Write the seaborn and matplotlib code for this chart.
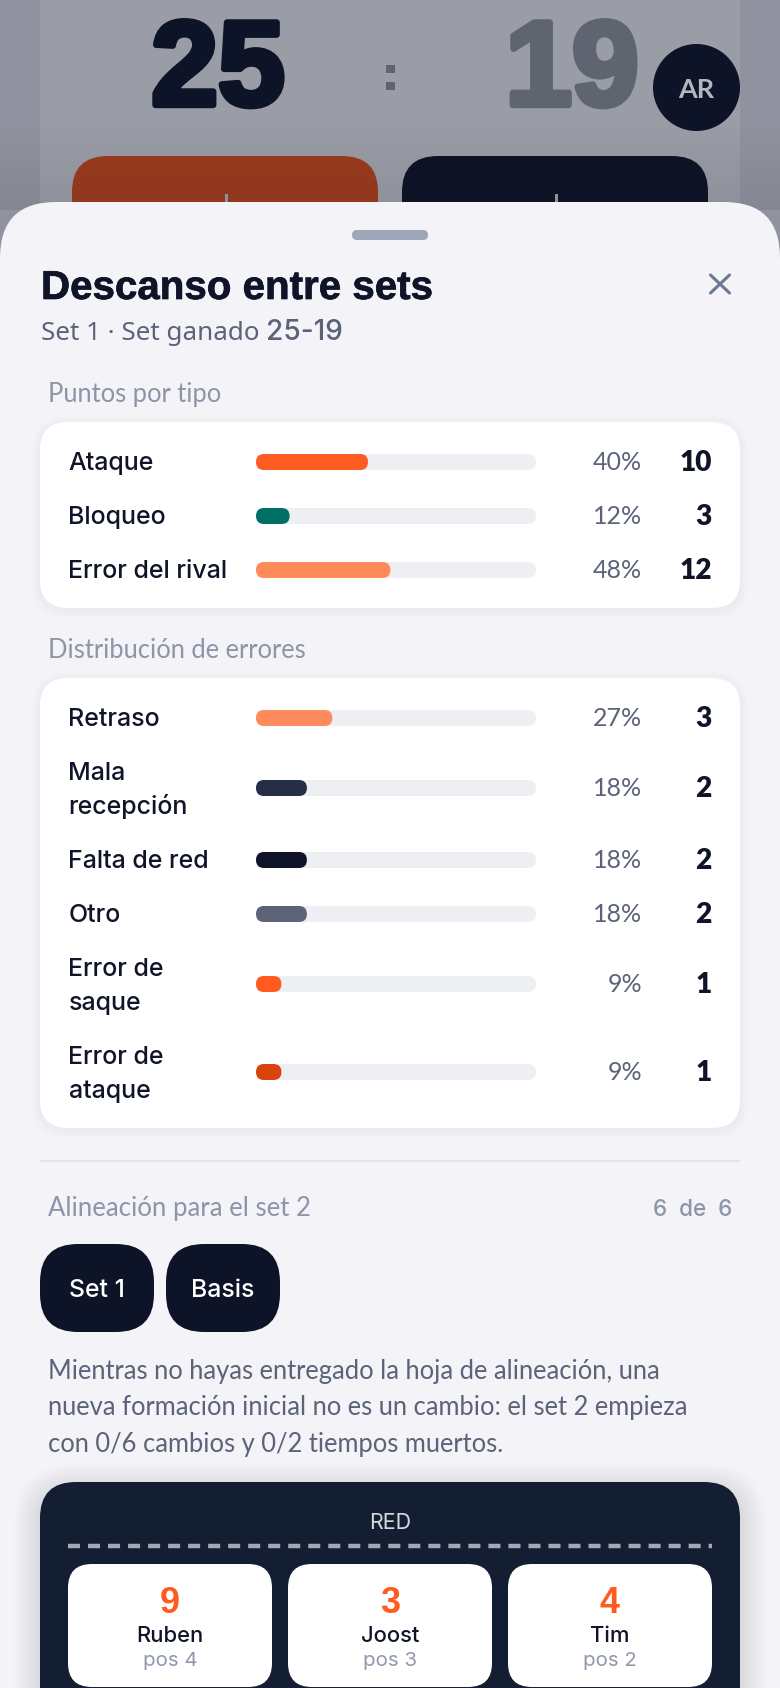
import numpy as np
import pandas as pd
import matplotlib
matplotlib.use("Agg")
import matplotlib.pyplot as plt
from matplotlib.patches import FancyBboxPatch, Rectangle, Circle
import matplotlib.patheffects as pe
import seaborn as sns

# ---- data ----
score_home = "25"
score_away = "19"
point_labels = ["Ataque", "Bloqueo", "Error del rival"]
point_counts = [10, 3, 12]
point_pcts = [40, 12, 48]
point_colors = ["#ff5a1f", "#006f64", "#ff8a5c"]

error_labels = ["Retraso", "Mala\nrecepción", "Falta de red", "Otro", "Error de\nsaque", "Error de\nataque"]
error_counts = [3, 2, 2, 2, 1, 1]
error_pcts = [27, 18, 18, 18, 9, 9]
error_colors = ["#ff8a5c", "#252e45", "#0f1428", "#5c6378", "#ff5a1f", "#d9420b"]
error_exact = [27.27, 18.18, 18.18, 18.18, 9.09, 9.09]

players = ["Ruben", "Joost", "Tim"]
numbers = ["9", "3", "4"]
positions = ["pos 4", "pos 3", "pos 2"]
paragraph = ["Mientras no hayas entregado la hoja de alineación, una",
             "nueva formación inicial no es un cambio: el set 2 empieza",
             "con 0/6 cambios y 0/2 tiempos muertos."]

W, H = 780, 1688
sns.set_theme(style="white")
plt.rcParams["font.family"] = ["Lato", "DejaVu Sans"]

INK = "#0f1428"
SLATE = "#5c6378"
MUTED = "#8d95a8"
SHEET = "#f3f3f8"
TRACK = "#eeeff3"
PANEL = "#141e33"

fig = plt.figure(figsize=(W / 100, H / 100), dpi=100, facecolor=SHEET)
main = fig.add_axes([0, 0, 1, 1])
main.set_axis_off()


def rbox(x0, y0, x1, y1, r, color, ax=None, z=2, alpha=1.0):
    p = FancyBboxPatch((x0 + r, y0 + r), x1 - x0 - 2 * r, y1 - y0 - 2 * r,
                       boxstyle=f"round,pad={r},rounding_size={r}",
                       fc=color, ec="none", alpha=alpha, zorder=z,
                       transform=main.transData, clip_on=ax is None)
    (ax or main).add_artist(p)
    return p


def shadow(x0, y0, x1, y1, r, spread, strength, dy=2, z=1.5):
    for s in range(spread, 0, -2):
        rbox(x0 - s, y0 - s + dy, x1 + s, y1 + s + dy, r + s, "#1a2040", z=z, alpha=strength)


def px(pts):
    return pts * 0.72


def text(x, y, s, size, color=INK, weight="normal", ha="left", family=None, z=6, **kw):
    return main.text(x, y, s, fontsize=px(size), color=color, fontweight=weight, ha=ha,
                     va="baseline", family=family or ["Lato", "DejaVu Sans"], zorder=z, **kw)


# ---- dimmed scoreboard behind the sheet ----
main.add_patch(Rectangle((0, 0), W, H, fc="#90939f", ec="none", zorder=0))
main.add_patch(Rectangle((40, 0), 700, 260, fc="#9a9da6", ec="none", zorder=0.1))
rbox(72, 156, 378, 330, 36, "#9b3c20", z=0.2)
rbox(402, 156, 708, 330, 36, "#0e1427", z=0.2)
main.add_patch(Rectangle((224.5, 194), 3, 10, fc="#9a9da6", ec="none", zorder=0.3))
main.add_patch(Rectangle((554.5, 194), 3, 10, fc="#9a9da6", ec="none", zorder=0.3))
text(218, 105, score_home, 120, "#0e1427", "bold", "center", "Liberation Sans", z=0.5,
     path_effects=[pe.withStroke(linewidth=4.6, foreground="#0e1427")])
text(572, 105, score_away, 120, "#5f6471", "bold", "center", "Liberation Sans", z=0.5,
     path_effects=[pe.withStroke(linewidth=4.6, foreground="#5f6471")])
main.add_patch(Rectangle((386, 65), 9, 8, fc="#5f6471", ec="none", zorder=0.5))
main.add_patch(Rectangle((386, 82), 9, 8, fc="#5f6471", ec="none", zorder=0.5))
grad = np.zeros((90, 1, 4))
grad[..., 3] = np.linspace(0, 0.08, 90)[:, None]
main.imshow(grad, extent=(0, W, 210, 120), aspect="auto", zorder=0.7, interpolation="bilinear")
main.add_patch(Circle((696.5, 87.5), 43.5, fc="#0e1427", ec="none", zorder=0.8))
text(696.5, 98, "AR", 27, "#b4b7c0", "bold", "center", z=0.9)

# ---- sheet ----
p = FancyBboxPatch((56, 258), W - 112, 2000, boxstyle="round,pad=56,rounding_size=56",
                   fc=SHEET, ec="none", zorder=1)
main.add_patch(p)
rbox(352, 230, 428, 240, 5, "#9ea7b8")
text(41, 299, "Descanso entre sets", 40.3, INK, "bold", family="Liberation Sans",
     path_effects=[pe.withStroke(linewidth=0.5, foreground=INK)])
text(41, 340, "Set 1 · Set ganado", 26, SLATE, family="Noto Sans")
text(266, 340, "25-19", 28, SLATE, "medium", family="Inter")
main.plot([710.5, 729.5], [275, 293], color="#6b7a90", lw=2.2, solid_capstyle="round", zorder=5)
main.plot([729.5, 710.5], [275, 293], color="#6b7a90", lw=2.2, solid_capstyle="round", zorder=5)


def bar_row(yc, label, pct, count, pct_text, color, label_lines_dy=34):
    ax = fig.add_axes([256 / W, 1 - (yc + 8) / H, 280 / W, 16 / H])
    frame = pd.DataFrame({"label": [label], "pct": [pct], "full": [100]})
    sns.barplot(data=frame, x="full", y="label", color=TRACK, width=1, saturation=1, ax=ax, orient="h")
    sns.barplot(data=frame, x="pct", y="label", color=color, width=1, saturation=1, ax=ax, orient="h")
    ax.set_xlim(0, 100)
    ax.set_ylim(0.5, -0.5)
    ax.set_axis_off()
    for bar, col in zip(list(ax.patches), [TRACK, color]):
        e = bar.get_window_extent()
        bar.set_visible(False)
        rbox(e.x0, H - e.y1, e.x1, H - e.y0, 8, col, ax=ax, z=3)
    lines = label.split("\n")
    lab = dict(family="Inter", weight="medium")
    if len(lines) == 1:
        text(68.5, yc + 8, lines[0], 25, INK, **lab)
    else:
        text(68.5, yc - 8, lines[0], 25, INK, **lab)
        text(68.5, yc + 26, lines[1], 25, INK, **lab)
    text(642, yc + 8, f"{pct_text}%", 25, SLATE, ha="right")
    text(712, yc + 9, str(count), 28, INK, "heavy", ha="right")


# ---- card 1 ----
shadow(40, 422, 740, 608, 28, 8, 0.006)
rbox(40, 422, 740, 608, 28, "white")
text(48, 402, "Puntos por tipo", 25.5, MUTED)
for yc, l, c, pc, col in zip([462, 516, 570], point_labels, point_counts, point_pcts, point_colors):
    bar_row(yc, l, pc, c, pc, col)

# ---- card 2 ----
text(48, 658, "Distribución de errores", 25.5, MUTED)
shadow(40, 678, 740, 1128, 28, 8, 0.006)
rbox(40, 678, 740, 1128, 28, "white")
for yc, l, c, pc, ex, col in zip([718, 788, 860, 914, 984, 1072], error_labels, error_counts,
                                 error_pcts, error_exact, error_colors):
    bar_row(yc, l, ex, c, pc, col)

# ---- lineup ----
main.add_patch(Rectangle((40, 1160), 700, 1.5, fc="#e2e2ea", ec="none", zorder=2))
text(48, 1216, "Alineación para el set 2", 25.8, MUTED)
text(732, 1216, "6  de  6", 22.5, MUTED, "medium", ha="right", family="Inter")
for x0, x1, s in [(40, 154, "Set 1"), (166, 280, "Basis")]:
    rbox(x0, 1244, x1, 1332, 38, "#0e1427")
    text((x0 + x1) / 2, 1297, s, 24.8, "white", "medium", ha="center", family="Inter")
for y, line in zip([1379, 1415, 1452], paragraph):
    text(48, y, line, 25.5, SLATE)

# ---- court panel ----
shadow(40, 1482, 740, 1800, 36, 26, 0.006, dy=8)
rbox(40, 1482, 740, 1800, 36, PANEL)
text(390, 1529, "RED", 21.5, "#d5d7dc", ha="center", family="Inter")
main.plot([68, 712], [1546, 1546], color="#a5a8b2", lw=3.2, ls=(0, (12 / 4.44, 8 / 4.44)),
          solid_capstyle="butt", dash_capstyle="butt", zorder=4)
for x0, num, name, pos in zip([68, 288, 508], numbers, players, positions):
    rbox(x0, 1564, x0 + 204, 1687, 24, "white", z=4)
    cx = x0 + 102
    text(cx, 1613, num, 36, "#ff5a1f", "bold", "center", "Liberation Sans")
    text(cx, 1642, name, 22, INK, "medium", "center", "Inter")
    text(cx, 1666, pos, 20.5, "#9098ad", ha="center", family="Inter")

main.set_xlim(0, W)
main.set_ylim(H, 0)
fig.savefig("out.png", dpi=100, facecolor=SHEET)
